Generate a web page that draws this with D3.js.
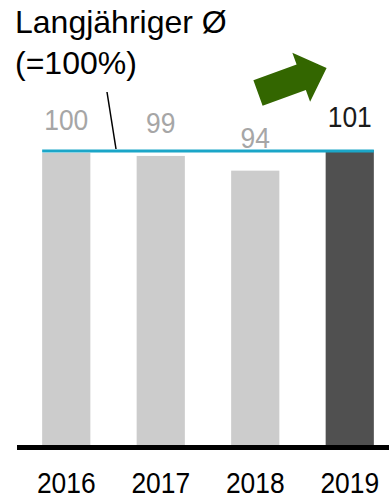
<!DOCTYPE html>
<html>
<head>
<meta charset="utf-8">
<script src="https://cdn.jsdelivr.net/npm/d3@7"></script>
<style>
  html, body { margin: 0; padding: 0; background: #fff; }
  svg { display: block; font-family: "Liberation Sans", Arial, sans-serif; }
</style>
</head>
<body>
<svg id="chart" width="389" height="499"></svg>
<script>
const years = ["2016", "2017", "2018", "2019"];
const values = [100, 99, 94, 101];
const barColors = ["#cccccc", "#cccccc", "#cccccc", "#505050"];
const labelColors = ["#a6a6a6", "#a6a6a6", "#a6a6a6", "#1a1a1a"];
const referenceValue = 100;
const titleLines = ["Langjähriger Ø", "(=100%)"];

const svg = d3.select("#chart");
const condense = 0.88;

const x = d3.scaleBand().domain(years).range([19, 397]).paddingInner(0.49).paddingOuter(0.245);
const y = d3.scaleLinear().domain([0, 100]).range([447, 153]);

// bars
svg.selectAll("rect.bar").data(values).join("rect")
  .attr("class", "bar")
  .attr("x", (d, i) => x(years[i]))
  .attr("width", x.bandwidth())
  .attr("y", d => y(d))
  .attr("height", d => y(0) - y(d))
  .attr("fill", (d, i) => barColors[i]);

// reference line (long-term average)
svg.append("line")
  .attr("x1", x(years[0])).attr("x2", x(years[3]) + x.bandwidth())
  .attr("y1", y(referenceValue) - 2).attr("y2", y(referenceValue) - 2)
  .attr("stroke", "#1ba6c8").attr("stroke-width", 3);

// baseline axis
const xAxis = d3.axisBottom(x).tickSize(0).tickPadding(0);
const axisG = svg.append("g").attr("transform", `translate(0,${y(0)})`).call(xAxis);
axisG.select(".domain").remove();
axisG.append("line").attr("x1", 17).attr("x2", 389).attr("y1", 0.5).attr("y2", 0.5)
  .attr("stroke", "#000").attr("stroke-width", 5);
axisG.selectAll(".tick text")
  .attr("dy", null).attr("y", 0)
  .attr("transform", `translate(0,46) scale(${condense},1)`)
  .attr("font-size", 30).attr("fill", "#000")
  .attr("font-family", "'Liberation Sans', Arial, sans-serif");

// value labels
svg.selectAll("text.val").data(values).join("text")
  .attr("class", "val")
  .attr("transform", (d, i) => `translate(${x(years[i]) + x.bandwidth() / 2},${y(d) - 23}) scale(${condense},1)`)
  .attr("text-anchor", "middle")
  .attr("font-size", 30)
  .attr("fill", (d, i) => labelColors[i])
  .text(d => d);

// title
svg.selectAll("text.title").data(titleLines).join("text")
  .attr("class", "title")
  .attr("x", 15)
  .attr("y", (d, i) => 33 + i * 41)
  .attr("font-size", 32)
  .attr("fill", "#000")
  .text(d => d);

// leader line
svg.append("line")
  .attr("x1", 107).attr("y1", 92).attr("x2", 116).attr("y2", y(referenceValue) - 4)
  .attr("stroke", "#000").attr("stroke-width", 1.5);

// trend arrow
const shaftLen = 46, headLen = 27, shaftHalf = 13.5, headHalf = 26;
const arrowPts = [
  [0, -shaftHalf], [shaftLen, -shaftHalf], [shaftLen, -headHalf],
  [shaftLen + headLen, 0], [shaftLen, headHalf], [shaftLen, shaftHalf], [0, shaftHalf]
];
svg.append("polygon")
  .attr("points", arrowPts.map(p => p.join(",")).join(" "))
  .attr("transform", "translate(258,93) rotate(-20)")
  .attr("fill", "#336600");
</script>
</body>
</html>
